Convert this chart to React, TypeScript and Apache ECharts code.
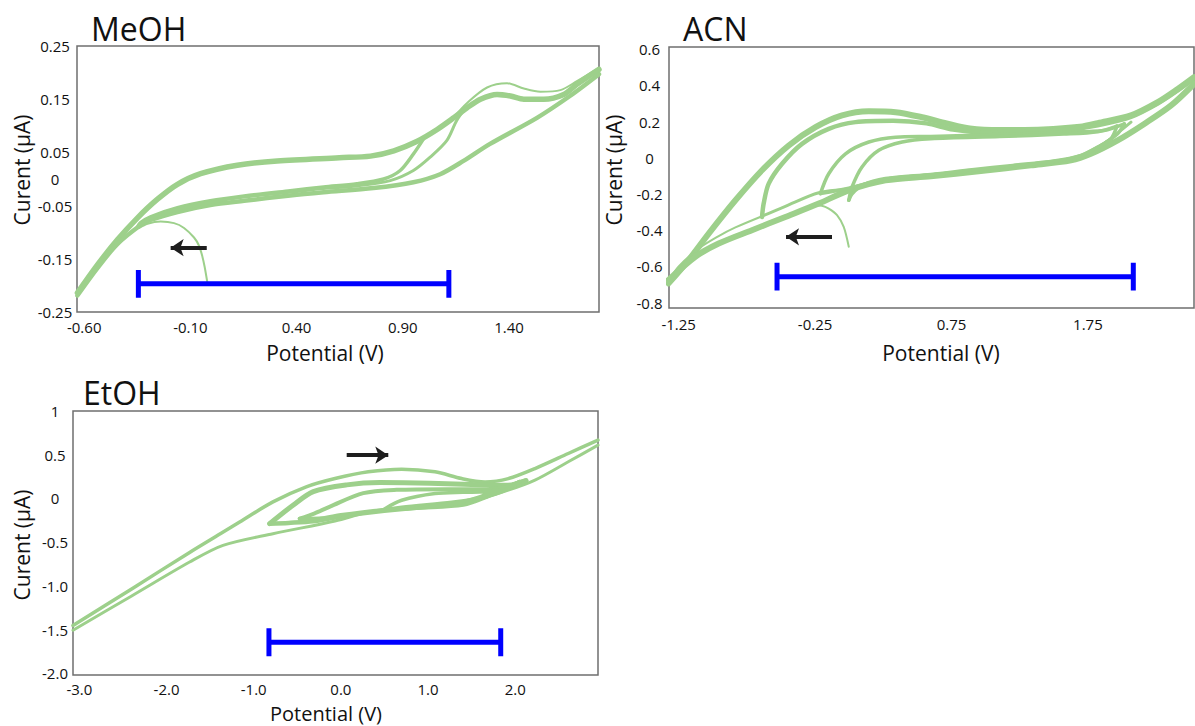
import React, { useEffect, useRef } from 'react';
import * as echarts from 'echarts';

const FONT = '"Open Sans", "Noto Sans", sans-serif';
const GREEN = '#9dd08b';
const BLUE = '#0000ff';
const ARROW = '#1e1e1e';

// ---------- MeOH ----------
const meohXTicks = [-0.6, -0.1, 0.4, 0.9, 1.4];
const meohYTicks = [0.25, 0.15, 0.05, 0, -0.05, -0.15, -0.25];
const meohForward = [[-0.632,-0.214],[-0.537,-0.161],[-0.443,-0.114],[-0.349,-0.073],[-0.255,-0.038],[-0.161,-0.010],[-0.052,0.010],[0.121,0.026],[0.309,0.034],[0.601,0.040],[0.748,0.043],[0.858,0.053],[0.968,0.071],[1.062,0.093],[1.140,0.115],[1.203,0.134],[1.266,0.150],[1.344,0.159],[1.407,0.156],[1.470,0.150],[1.564,0.150],[1.658,0.159],[1.720,0.178],[1.824,0.206]];
const meohPeak = [[1.140,0.116],[1.203,0.143],[1.297,0.172],[1.391,0.180],[1.470,0.170],[1.548,0.164],[1.642,0.167],[1.720,0.184],[1.824,0.209]];
const meohReverse = [[1.824,0.197],[1.687,0.156],[1.532,0.115],[1.311,0.066],[1.186,0.034],[1.076,0.009],[0.950,-0.006],[0.762,-0.017],[0.527,-0.025],[0.370,-0.031],[0.153,-0.041],[-0.006,-0.049],[-0.161,-0.062],[-0.288,-0.077],[-0.335,-0.087],[-0.443,-0.122],[-0.537,-0.167],[-0.632,-0.219]];
const meohSwitchA = [[0.997,0.075],[0.950,0.047],[0.888,0.016],[0.810,0.000],[0.684,-0.009],[0.527,-0.015],[0.370,-0.022],[0.153,-0.032],[-0.006,-0.041],[-0.161,-0.054],[-0.288,-0.071],[-0.335,-0.082],[-0.349,-0.090]];
const meohSwitchB = [[1.200,0.136],[1.154,0.110],[1.107,0.072],[1.029,0.041],[0.950,0.016],[0.841,-0.003],[0.684,-0.013],[0.527,-0.018],[0.370,-0.025],[0.153,-0.034],[-0.006,-0.044],[-0.161,-0.057],[-0.288,-0.074],[-0.335,-0.084]];
const meohStart = [[-0.020,-0.195],[-0.033,-0.165],[-0.044,-0.145],[-0.060,-0.125],[-0.083,-0.110],[-0.130,-0.092],[-0.177,-0.083],[-0.240,-0.080],[-0.302,-0.084],[-0.341,-0.092]];
const meohWindowX = [-0.345, 1.117];
const meohWindowY = [-0.197, -0.171, -0.223];
const meohArrowX = [-0.023, -0.193];
const meohArrowY = -0.129;

// ---------- ACN ----------
const acnXTicks = [-1.25, -0.25, 0.75, 1.75];
const acnYTicks = [0.6, 0.4, 0.2, 0, -0.2, -0.4, -0.6, -0.8];
const acnForwardOuter = [[-1.324,-0.694],[-1.177,-0.565],[-1.030,-0.419],[-0.834,-0.235],[-0.639,-0.069],[-0.443,0.068],[-0.247,0.169],[-0.052,0.234],[0.144,0.257],[0.340,0.252],[0.535,0.224],[0.714,0.190],[0.885,0.162],[1.105,0.153],[1.422,0.156],[1.692,0.171],[1.822,0.191],[2.066,0.234],[2.262,0.307],[2.409,0.380],[2.528,0.445]];
const acnForward2 = [[-0.639,-0.327],[-0.627,-0.253],[-0.590,-0.143],[-0.492,-0.033],[-0.346,0.077],[-0.150,0.160],[0.046,0.197],[0.322,0.204],[0.567,0.190],[0.762,0.156],[1.007,0.140],[1.300,0.145],[1.600,0.155],[1.822,0.180],[2.066,0.226],[2.262,0.300],[2.409,0.372],[2.528,0.438]];
const acnReverseOuter = [[2.528,0.408],[2.360,0.289],[2.163,0.187],[1.968,0.096],[1.772,0.022],[1.626,-0.014],[1.332,-0.042],[0.965,-0.073],[0.598,-0.102],[0.266,-0.125],[-0.003,-0.180],[-0.223,-0.253],[-0.468,-0.327],[-0.713,-0.400],[-0.957,-0.474],[-1.128,-0.547],[-1.324,-0.675]];
const acnReverse2 = [[2.066,0.197],[1.992,0.151],[1.919,0.105],[1.822,0.059],[1.699,0.013],[1.500,-0.022],[1.200,-0.045],[0.900,-0.070],[0.598,-0.095],[0.266,-0.118],[-0.003,-0.171],[-0.223,-0.193],[-0.468,-0.268],[-0.639,-0.323]];
const acnTail2 = [[-0.639,-0.323],[-0.834,-0.385],[-0.957,-0.433],[-1.100,-0.500],[-1.250,-0.600],[-1.324,-0.680]];
const acnForward3 = [[-0.211,-0.198],[-0.150,-0.088],[-0.027,0.022],[0.144,0.087],[0.340,0.114],[0.598,0.118],[1.105,0.128],[1.575,0.142],[1.868,0.151],[2.017,0.187]];
const acnReverse3 = [[2.017,0.187],[1.968,0.132],[1.870,0.077],[1.772,0.022],[1.626,-0.008],[1.332,-0.036],[0.965,-0.066],[0.598,-0.095],[0.266,-0.118],[-0.003,-0.168],[-0.211,-0.198]];
const acnForward4 = [[-0.003,-0.235],[0.021,-0.161],[0.094,-0.051],[0.217,0.041],[0.388,0.087],[0.598,0.105],[1.105,0.117],[1.575,0.131],[1.822,0.144],[1.963,0.175]];
const acnReverse4 = [[1.963,0.175],[1.919,0.105],[1.822,0.059],[1.699,0.013],[1.500,-0.018],[1.200,-0.042],[0.900,-0.066],[0.598,-0.092],[0.266,-0.115],[0.100,-0.150],[0.020,-0.200],[-0.003,-0.235]];
const acnStart = [[-0.003,-0.492],[-0.040,-0.382],[-0.089,-0.317],[-0.150,-0.281],[-0.200,-0.265],[-0.260,-0.262]];
const acnWindowX = [-0.529, 2.083];
const acnWindowY = [-0.657, -0.580, -0.734];
const acnArrowX = [-0.126, -0.463];
const acnArrowY = -0.437;

// ---------- EtOH ----------
const etohXTicks = [-3, -2, -1, 0, 1, 2];
const etohYTicks = [1, 0.5, 0, -0.5, -1, -1.5, -2];
const etohYLabels = ['1', '0.5', '0', '-0.5', '-1.0', '-1.5', '-2.0'];
const etohForwardOuter = [[-3.073,-1.454],[-2.400,-1.035],[-1.735,-0.618],[-1.350,-0.385],[-1.161,-0.270],[-0.779,-0.040],[-0.397,0.132],[-0.067,0.227],[0.315,0.304],[0.698,0.335],[1.080,0.304],[1.386,0.227],[1.654,0.189],[1.921,0.227],[2.227,0.342],[2.609,0.514],[2.950,0.667]];
const etohReverseOuter = [[2.950,0.610],[2.609,0.419],[2.227,0.209],[1.921,0.094],[1.654,0.017],[1.271,-0.040],[0.698,-0.097],[0.315,-0.155],[-0.067,-0.258],[-0.779,-0.404],[-1.352,-0.537],[-1.735,-0.728],[-2.400,-1.116],[-3.073,-1.508]];
const etohLoop1Up = [[-0.817,-0.289],[-0.549,-0.078],[-0.316,0.078],[0.067,0.155],[0.449,0.181],[1.023,0.174],[1.596,0.155],[1.902,0.150],[2.124,0.205]];
const etohLoop1Down = [[2.124,0.205],[1.826,0.097],[1.673,0.021],[1.405,-0.070],[0.827,-0.110],[0.254,-0.170],[-0.067,-0.220],[-0.316,-0.262],[-0.600,-0.280],[-0.817,-0.289]];
const etohLoop2Up = [[-0.472,-0.232],[-0.300,-0.170],[-0.125,-0.094],[0.257,0.060],[0.640,0.098],[1.214,0.106],[1.673,0.105],[1.900,0.130],[2.050,0.190]];
const etohLoop2Down = [[2.050,0.190],[1.850,0.080],[1.600,0.000],[1.300,-0.060],[0.900,-0.100],[0.400,-0.140],[0.000,-0.190],[-0.250,-0.230],[-0.472,-0.232]];
const etohLoop3 = [[0.506,-0.117],[0.698,-0.021],[1.080,0.055],[1.400,0.070],[1.654,0.075],[1.800,0.100],[1.600,0.020],[1.300,-0.060],[1.000,-0.100],[0.700,-0.120],[0.506,-0.117]];
const etohWindowX = [-0.825, 1.834];
const etohWindowY = [-1.646, -1.485, -1.806];
const etohArrowX = [0.067, 0.544];
const etohArrowY = 0.495;

const labelStyle = { fontFamily: FONT, fontSize: 15, color: '#111111' };

function xAxis(gridIndex: number, min: number, max: number, ticks: number[], digits: number, margin: number) {
  return {
    type: 'value', gridIndex, min, max,
    axisLine: { show: false }, axisTick: { show: false }, splitLine: { show: false },
    axisLabel: { ...labelStyle, margin, customValues: ticks, showMinLabel: true, showMaxLabel: true,
      formatter: (v: number) => v.toFixed(digits) },
  };
}

function yAxis(gridIndex: number, min: number, max: number, ticks: number[], fmt: (v: number) => string, margin: number) {
  return {
    type: 'value', gridIndex, min, max,
    axisLine: { show: false }, axisTick: { show: false }, splitLine: { show: false },
    axisLabel: { ...labelStyle, margin, align: 'center', customValues: ticks, showMinLabel: true, showMaxLabel: true,
      formatter: fmt },
  };
}

function curve(grid: number, data: number[][], width: number) {
  return {
    type: 'line', xAxisIndex: grid, yAxisIndex: grid, data, symbol: 'none', showSymbol: false,
    smooth: 0.3, silent: true, z: 2,
    lineStyle: { color: GREEN, width, cap: 'round', join: 'round' },
  };
}

function windowBar(grid: number, xs: number[], ys: number[]) {
  const [x1, x2] = xs;
  const [lvl, top, bot] = ys;
  return {
    type: 'line', xAxisIndex: grid, yAxisIndex: grid, symbol: 'none', showSymbol: false, silent: true, z: 5,
    data: [[x1, top], [x1, bot], [x1, lvl], [x2, lvl], [x2, top], [x2, bot]],
    lineStyle: { color: BLUE, width: 5, cap: 'butt', join: 'miter' },
  };
}

function arrow(grid: number, xs: number[], y: number) {
  return {
    type: 'line', xAxisIndex: grid, yAxisIndex: grid, symbol: 'none', showSymbol: false, silent: true, z: 6,
    data: [[xs[0], y], [xs[1], y]],
    lineStyle: { opacity: 0 },
    markLine: {
      silent: true, symbol: ['none', 'arrow'], symbolSize: 13, label: { show: false },
      lineStyle: { color: ARROW, width: 4, type: 'solid' },
      emphasis: { disabled: true },
      data: [[{ coord: [xs[0], y] }, { coord: [xs[1], y] }]],
    },
  };
}

function text(t: string, x: number, y: number, size: number, rotate = false, align = 'center') {
  return {
    type: 'text', x, y, rotation: rotate ? Math.PI / 2 : 0, silent: true,
    style: { text: t, fontFamily: FONT, fontSize: size, fill: '#111', align, verticalAlign: 'middle',
      textAlign: align, textVerticalAlign: 'middle' },
  };
}

const gridBase = { show: true, borderColor: '#6f6f6f', borderWidth: 1.5, backgroundColor: 'transparent', outerBoundsMode: 'none', containLabel: false };

const option = {
  animation: false,
  backgroundColor: '#ffffff',
  grid: [
    { ...gridBase, left: 77, top: 46, width: 522, height: 266 },
    { ...gridBase, left: 669, top: 47, width: 525, height: 261 },
    { ...gridBase, left: 73, top: 411, width: 525, height: 264 },
  ],
  xAxis: [
    xAxis(0, -0.634, 1.824, meohXTicks, 2, 7),
    xAxis(1, -1.321, 2.528, acnXTicks, 2, 8),
    xAxis(2, -3.073, 2.95, etohXTicks, 1, 6),
  ],
  yAxis: [
    yAxis(0, -0.25, 0.25, meohYTicks, (v: number) => (v === 0 ? '0' : v.toFixed(2)), 22),
    yAxis(1, -0.83, 0.612, acnYTicks, (v: number) => (v === 0 ? '0' : v.toFixed(1)), 19.5),
    yAxis(2, -2.02, 1.0, etohYTicks, (v: number) => {
      const i = etohYTicks.findIndex((t) => Math.abs(t - v) < 1e-9);
      return i >= 0 ? etohYLabels[i] : '';
    }, 18),
  ],
  series: [
    curve(0, meohForward, 5.5),
    curve(0, meohPeak, 2),
    curve(0, meohReverse, 4.5),
    curve(0, meohSwitchA, 3.5),
    curve(0, meohSwitchB, 3),
    curve(0, meohStart, 2),
    windowBar(0, meohWindowX, meohWindowY),
    arrow(0, meohArrowX, meohArrowY),

    curve(1, acnForwardOuter, 6),
    curve(1, acnForward2, 4.5),
    curve(1, acnReverseOuter, 6),
    curve(1, acnReverse2, 3),
    curve(1, acnTail2, 2),
    curve(1, acnForward3, 3.5),
    curve(1, acnReverse3, 3.5),
    curve(1, acnForward4, 3.5),
    curve(1, acnReverse4, 3.5),
    curve(1, acnStart, 2),
    windowBar(1, acnWindowX, acnWindowY),
    arrow(1, acnArrowX, acnArrowY),

    curve(2, etohForwardOuter, 3.5),
    curve(2, etohReverseOuter, 3),
    curve(2, etohLoop1Up, 5),
    curve(2, etohLoop1Down, 4.5),
    curve(2, etohLoop2Up, 4),
    curve(2, etohLoop2Down, 4),
    curve(2, etohLoop3, 3.5),
    windowBar(2, etohWindowX, etohWindowY),
    arrow(2, etohArrowX, etohArrowY),
  ],
  graphic: [
    text('MeOH', 91, 28, 32, false, 'left'),
    text('ACN', 683, 28, 32, false, 'left'),
    text('EtOH', 83, 392, 32, false, 'left'),
    text('Potential (V)', 325, 353, 21),
    text('Potential (V)', 941, 353, 21),
    text('Potential (V)', 326, 713, 20),
    text('Curent (µA)', 22, 170, 21, true),
    text('Curent (µA)', 614, 170, 21, true),
    text('Curent (µA)', 22, 545, 21, true),
  ],
};

export default function App() {
  const ref = useRef<HTMLDivElement>(null);
  useEffect(() => {
    const chart = echarts.init(ref.current as HTMLDivElement, null, { renderer: 'svg' });
    chart.setOption(option as any);
    return () => chart.dispose();
  }, []);
  return (
    <div
      ref={ref}
      style={{ position: 'fixed', left: 0, top: 0, width: 1195, height: 726, background: '#fff' }}
    />
  );
}
